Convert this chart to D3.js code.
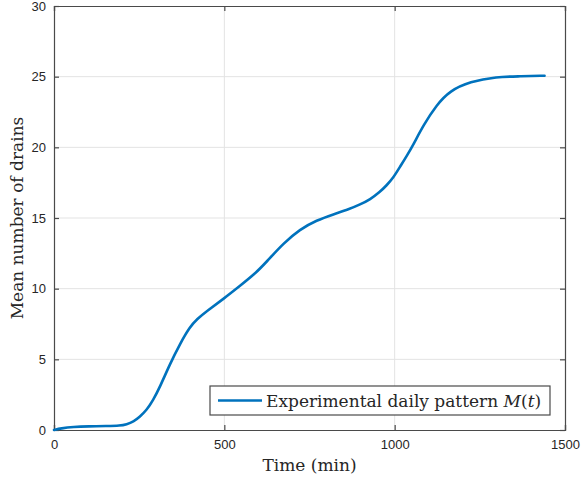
<!DOCTYPE html>
<html>
<head>
<meta charset="utf-8">
<script src="https://d3js.org/d3.v7.min.js"></script>
<style>
html,body{margin:0;padding:0;background:#fff;}
svg{display:block;}
</style>
</head>
<body>
<div id="chart"></div>
<script>
const times = [0,20,57,100,155,194,213,233,252,272,291,311,340,370,399,420,448,497,546,590,624,673,722,771,820,869,898,928,957,976,996,1015,1035,1055,1084,1123,1162,1221,1299,1368,1440];
const values = [0,0.12,0.22,0.26,0.28,0.3,0.4,0.58,0.94,1.41,2.11,3.05,4.65,6.1,7.3,7.85,8.4,9.27,10.2,11.05,11.9,13.2,14.2,14.84,15.26,15.65,15.95,16.31,16.85,17.3,17.85,18.6,19.37,20.2,21.55,23.0,24.0,24.65,25.0,25.02,25.07];
const xTicks = [0,500,1000,1500];
const yTicks = [0,5,10,15,20,25,30];
const seriesName = "Experimental daily pattern ";
const xLabel = "Time (min)";
const yLabel = "Mean number of drains";

const W = 581, H = 478;
const m = {left:54, right:16, top:6, bottom:48};
const iw = W - m.left - m.right, ih = H - m.top - m.bottom;

const svg = d3.select("#chart").append("svg").attr("width", W).attr("height", H);
const g = svg.append("g").attr("transform", `translate(${m.left},${m.top})`);

const x = d3.scaleLinear().domain([0,1500]).range([0, iw]);
const y = d3.scaleLinear().domain([0,30]).range([ih, 0]);

const axisColor = "#4a4a4a";
const textColor = "#262626";
const gridColor = "#e3e3e3";

// grid
g.append("g").selectAll("line").data(xTicks.slice(1,-1)).join("line")
  .attr("x1", d=>x(d)).attr("x2", d=>x(d)).attr("y1",0).attr("y2",ih)
  .attr("stroke", gridColor).attr("stroke-width",1);
g.append("g").selectAll("line").data(yTicks.slice(1,-1)).join("line")
  .attr("y1", d=>y(d)).attr("y2", d=>y(d)).attr("x1",0).attr("x2",iw)
  .attr("stroke", gridColor).attr("stroke-width",1);

// axes
const tickFont = "'Liberation Sans', Arial, sans-serif";
const xAxis = g.append("g").attr("transform", `translate(0,${ih})`)
  .call(d3.axisBottom(x).tickValues(xTicks).tickSize(-5).tickPadding(10).tickFormat(d3.format("d")));
const yAxis = g.append("g")
  .call(d3.axisLeft(y).tickValues(yTicks).tickSize(-5).tickPadding(8).tickFormat(d3.format("d")));
const xAxisTop = g.append("g")
  .call(d3.axisTop(x).tickValues(xTicks).tickSize(-5).tickFormat(""));
const yAxisRight = g.append("g").attr("transform", `translate(${iw},0)`)
  .call(d3.axisRight(y).tickValues(yTicks).tickSize(-5).tickFormat(""));
[xAxis,yAxis,xAxisTop,yAxisRight].forEach(a=>{
  a.select(".domain").attr("stroke", axisColor).attr("stroke-width",1.2);
  a.selectAll(".tick line").attr("stroke", axisColor).attr("stroke-width",1.2);
  a.selectAll(".tick text").attr("fill", textColor).style("font-family", tickFont).style("font-size","13px");
});

// line
const line = d3.line().x((d,i)=>x(times[i])).y(d=>y(d)).curve(d3.curveBasis);
g.append("path").datum(values).attr("d", line)
  .attr("fill","none").attr("stroke","#0072BD").attr("stroke-width",2.6)
  .attr("stroke-linejoin","round").attr("stroke-linecap","round");

// axis labels
const serif = "'DejaVu Serif', 'Liberation Serif', serif";
svg.append("text").attr("x", m.left + iw/2).attr("y", 471)
  .attr("text-anchor","middle").attr("fill", textColor)
  .style("font-family", serif).style("font-size","17px").text(xLabel);
svg.append("text").attr("transform", `translate(23,${m.top+ih/2}) rotate(-90)`)
  .attr("text-anchor","middle").attr("fill", textColor)
  .style("font-family", serif).style("font-size","17px").text(yLabel);

// legend
const lg = svg.append("g");
lg.append("rect").attr("x",210).attr("y",386).attr("width",340).attr("height",29)
  .attr("fill","#fff").attr("stroke", axisColor).attr("stroke-width",1.2);
lg.append("line").attr("x1",218).attr("x2",262).attr("y1",400.5).attr("y2",400.5)
  .attr("stroke","#0072BD").attr("stroke-width",2.6);
const lt = lg.append("text").attr("x",266).attr("y",406.5).attr("fill", textColor)
  .style("font-family", serif).style("font-size","17px");
lt.append("tspan").text(seriesName);
lt.append("tspan").style("font-style","italic").text("M");
lt.append("tspan").text("(");
lt.append("tspan").style("font-style","italic").text("t");
lt.append("tspan").text(")");
</script>
</body>
</html>
